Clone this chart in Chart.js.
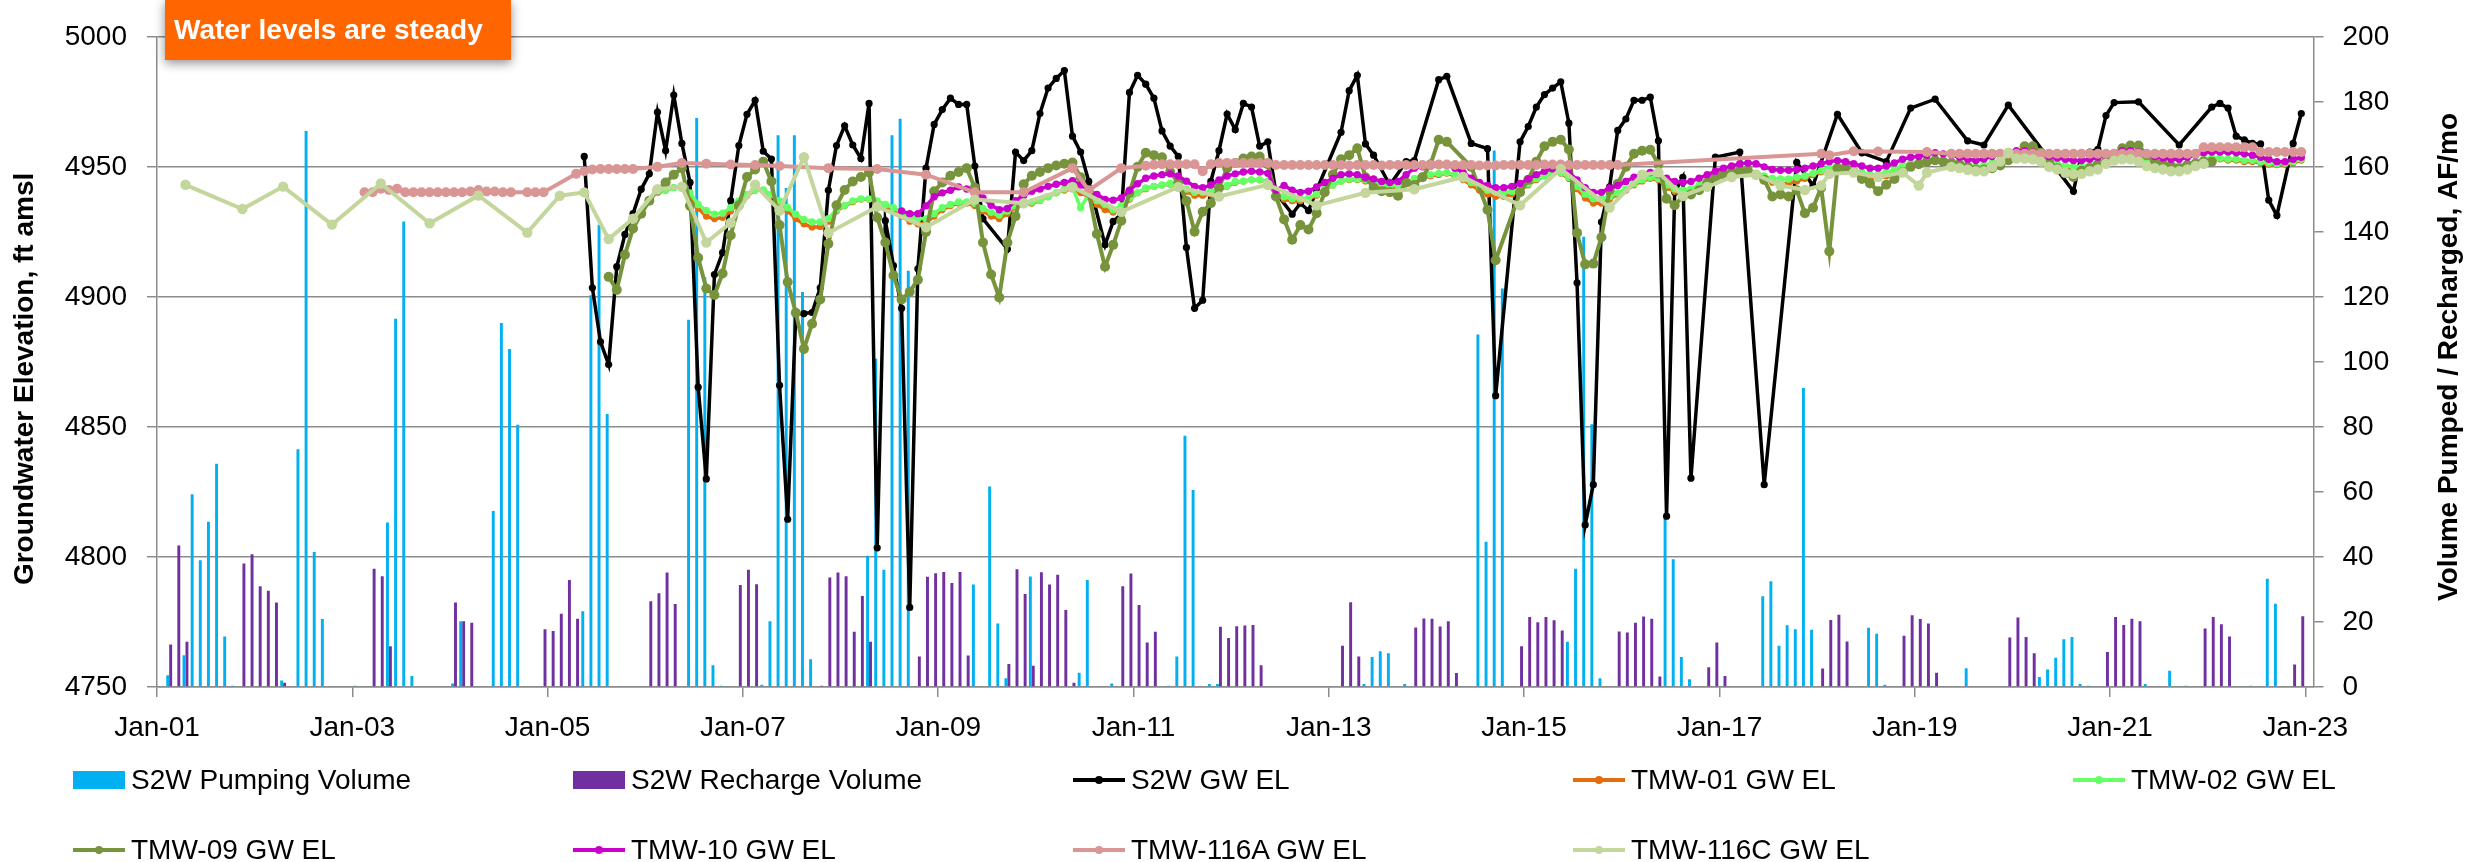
<!DOCTYPE html>
<html>
<head>
    <meta charset="utf-8">
    <title>S2W Groundwater Elevation and Volumes</title>
    <script src="https://cdn.jsdelivr.net/npm/chart.js"></script>
    <style>
        body {
            margin: 0;
            background: #fff;
            font-family: "Liberation Sans", Arial, sans-serif;
        }
        .wrap {
            position: relative;
            width: 2489px;
            height: 862px;
            overflow: hidden;
        }
        #chart {
            position: absolute;
            left: 0;
            top: 0;
        }
        .note {
            position: absolute;
            left: 165px;
            top: 0;
            width: 346px;
            height: 60px;
            box-sizing: border-box;
            padding-left: 9px;
            background: #ff6600;
            color: #fff;
            font-weight: bold;
            font-size: 28px;
            line-height: 60px;
            box-shadow: 0 3px 10px rgba(0, 0, 0, 0.45);
        }
        .legend {
            position: absolute;
            left: 73px;
            top: 745px;
            display: grid;
            grid-template-columns: repeat(5, 500px);
            grid-auto-rows: 70px;
        }
        .item {
            display: flex;
            align-items: center;
            font-size: 28px;
            color: #000;
            white-space: nowrap;
        }
        .swatch {
            width: 52px;
            height: 18px;
            margin-right: 6px;
        }
        .lineMark {
            position: relative;
            width: 52px;
            height: 4px;
            margin-right: 6px;
        }
        .lineMark span {
            position: absolute;
            left: 22px;
            top: -2px;
            width: 8px;
            height: 8px;
            border-radius: 50%;
        }
    </style>
</head>
<body>
<div class="wrap">
    <canvas id="chart" width="2489" height="862"></canvas>
    <div class="note">Water levels are steady</div>
    <div class="legend" id="legend"></div>
</div>

<script>
    // monthly volumes, AF/mo (right axis)
    const pumpMonths = [
        '2001-02', '2001-04', '2001-05', '2001-06', '2001-07', '2001-08', '2001-09', '2001-10',
        '2002-04', '2002-06', '2002-07', '2002-08', '2002-09',
        '2003-01', '2003-05', '2003-06', '2003-07', '2003-08',
        '2004-01', '2004-02', '2004-06', '2004-07', '2004-08', '2004-09',
        '2005-05', '2005-06', '2005-07', '2005-08',
        '2006-06', '2006-07', '2006-08', '2006-09', '2006-10',
        '2007-03', '2007-04', '2007-05', '2007-06', '2007-07', '2007-08', '2007-09',
        '2008-04', '2008-05', '2008-06', '2008-07', '2008-08', '2008-09',
        '2009-05', '2009-07', '2009-08', '2009-09', '2009-12',
        '2010-06', '2010-07', '2010-10',
        '2011-05', '2011-06', '2011-07', '2011-08', '2011-10', '2011-11',
        '2013-05', '2013-06', '2013-07', '2013-08', '2013-10',
        '2014-07', '2014-08', '2014-09', '2014-10',
        '2015-06', '2015-07', '2015-08', '2015-09', '2015-10',
        '2016-06', '2016-07', '2016-08', '2016-09',
        '2017-06', '2017-07', '2017-08', '2017-09', '2017-10', '2017-11', '2017-12',
        '2018-07', '2018-08', '2018-09',
        '2019-07',
        '2020-04', '2020-05', '2020-06', '2020-07', '2020-08', '2020-09', '2020-10',
        '2021-05', '2021-08', '2021-10',
        '2022-06', '2022-08', '2022-09'
    ];
    const pumpVolume = [
        3.6, 9.8, 59.3, 39, 50.8, 68.7, 15.5, 0.4,
        2, 73.1, 171, 41.5, 20.9,
        0.4, 50.6, 113.3, 143.2, 3.4,
        1.1, 20.2, 54.1, 112, 104, 80.7,
        23.3, 120.5, 142.2, 84,
        113, 175, 126, 6.7, 0.4,
        0.7, 20.2, 169.7, 153.5, 169.7, 121.5, 8.5,
        40.4, 101, 36.1, 169.7, 174.8, 128,
        31.5, 61.7, 19.5, 2.7, 34,
        4.4, 32.9, 1.1,
        0.4, 9.4, 77.3, 60.6, 0.9, 0.9,
        0.9, 9.2, 11, 10.4, 0.9,
        108.4, 44.7, 165, 122.6,
        13.9, 36.4, 138.5, 80.8, 2.7,
        52.5, 39.3, 9.2, 2.4,
        27.9, 32.5, 12.7, 19, 17.8, 92, 17.6,
        18.2, 16.4, 0.7,
        5.8,
        3.1, 5.4, 9, 14.7, 15.4, 0.9, 0.4,
        0.9, 5, 0.4,
        0.4, 33.3, 25.6
    ];

    const rechargeMonths = [
        '2001-02', '2001-03', '2001-04', '2001-11', '2001-12',
        '2002-01', '2002-02', '2002-03', '2002-04',
        '2003-03', '2003-04', '2003-05',
        '2004-01', '2004-02', '2004-03', '2004-12',
        '2005-01', '2005-02', '2005-03', '2005-04',
        '2006-01', '2006-02', '2006-03', '2006-04', '2006-12',
        '2007-01', '2007-02', '2007-10', '2007-11', '2007-12',
        '2008-01', '2008-02', '2008-03', '2008-04', '2008-10', '2008-11', '2008-12',
        '2009-01', '2009-02', '2009-03', '2009-04', '2009-09', '2009-10', '2009-11', '2009-12',
        '2010-01', '2010-02', '2010-03', '2010-04', '2010-05', '2010-11', '2010-12',
        '2011-01', '2011-02', '2011-03', '2011-11', '2011-12',
        '2012-01', '2012-02', '2012-03', '2012-04',
        '2013-02', '2013-03', '2013-04', '2013-11', '2013-12',
        '2014-01', '2014-02', '2014-03', '2014-04', '2014-12',
        '2015-01', '2015-02', '2015-03', '2015-04', '2015-05', '2015-12',
        '2016-01', '2016-02', '2016-03', '2016-04', '2016-05', '2016-11', '2016-12',
        '2017-01',
        '2018-01', '2018-02', '2018-03', '2018-04', '2018-11', '2018-12',
        '2019-01', '2019-02', '2019-03', '2019-12',
        '2020-01', '2020-02', '2020-03', '2020-12',
        '2021-01', '2021-02', '2021-03', '2021-04', '2021-12',
        '2022-01', '2022-02', '2022-03', '2022-11', '2022-12'
    ];
    const rechargeVolume = [
        13.1, 43.5, 13.9, 38, 40.8,
        31, 29.6, 26, 1.3,
        36.4, 34.1, 12.5,
        26, 20.2, 19.8, 17.8,
        17.2, 22.5, 32.9, 21,
        26.4, 28.8, 35.2, 25.5, 31.4,
        36.1, 31.6, 0.4, 33.7, 35.2,
        34.1, 17, 28, 13.9, 9.4, 33.9, 35,
        35.4, 32, 35.4, 9.7, 7.1, 36.2, 28.6, 6.5,
        35.3, 31.5, 34.5, 23.7, 1.3, 31, 34.9,
        25.2, 13.7, 17, 18.5, 15.1,
        18.7, 18.9, 19.1, 6.7,
        12.7, 26.1, 9.4, 18.3, 21.1,
        21, 18.6, 20.2, 4.3, 12.5,
        21.5, 19.9, 21.5, 20.5, 17.4, 17.1,
        16.8, 19.8, 21.7, 21, 3.2, 6.1, 13.7,
        3.4,
        5.7, 20.6, 22.2, 14, 15.8, 22.1,
        20.9, 19.5, 4.4, 15.2,
        21.4, 15.4, 10.4, 10.8,
        21.5, 19.1, 21, 20.2, 18,
        21.5, 19.3, 15.5, 6.9, 21.8
    ];

    // groundwater elevations, ft amsl (left axis); one row per year, Jan..Dec, null = no reading
    const s2wStart = '2005-01';
    const s2wLevel = [
        null, null, null, null, 4954, 4903.5, 4882.7, 4874, 4911.6, 4924, 4932, 4941.4,
        4947.3, 4971, 4956.2, 4977.6, 4959, 4944, 4865.3, 4830, 4908.6, 4917, 4937, 4958.2,
        4970.2, 4975.6, 4956, 4953, 4866, 4814.5, 4893.4, 4893.6, 4894, 4903.5, 4941, 4958.2,
        4965.8, 4958.4, 4953.2, 4974.4, 4803.5, 4929.3, 4912, 4895.6, 4780.6, 4910.8, 4949.5, 4966.3,
        4972, 4976.4, 4974, 4974, 4950.3, 4930, null, null, 4918.4, 4955.7, 4952.4, 4956.2,
        4970.5, 4980.3, 4984, 4987, 4961.8, 4955.7, 4944.4, null, 4920, 4929, 4931.8, 4978.6,
        4985.2, 4981.8, 4976.4, 4963.8, 4958, 4954, 4919, 4895.6, 4898.7, 4944.4, 4956.2, 4970.3,
        4964.3, 4974.4, 4973, 4958, 4959.6, 4940, null, 4931.8, 4936, 4933.2, 4941, null,
        null, 4963.3, 4979.3, 4985.2, 4958.8, 4954.5, null, 4943, null, 4952, 4952.4, null,
        null, 4983.5, 4984.8, null, null, 4959, null, 4957, 4862, null, null, 4959.6,
        4965.5, 4973, 4977.8, 4980.3, 4982.7, 4966.8, 4905.4, 4812.3, 4827.8, 4928.8, 4942.3, 4964,
        4968.4, 4975.6, 4975.6, 4976.8, 4960, 4815.7, 4940.2, 4946, 4830.3, null, null, 4953.7,
        null, null, 4955.7, null, null, 4827.8, null, null, null, 4951.7, null, 4942.8,
        null, null, 4970.2, null, null, 4955.4, null, null, 4952, null, null, 4972.6,
        null, null, 4976, null, null, null, 4960, null, 4958.4, null, null, 4973.7,
        null, null, null, null, null, null, null, 4940.6, 4955, 4955.7, 4956.7, 4969.7,
        4974.7, null, null, 4975, null, null, null, null, 4958.4, null, null, null,
        4973, 4974.4, 4972.6, 4961.8, 4960.4, 4959, 4958.8, 4937.2, 4931.3, null, 4959, 4970.5
    ];

    const tmw01Start = '2006-01';
    const tmw01Level = [
        null, 4940, 4941, 4942, 4942.5, 4939, 4934, 4931, 4930, 4930.5, 4933, 4936,
        4939, 4941, 4941, 4939, 4936, 4933, 4930, 4928, 4926.8, 4927, 4929, 4933,
        4935, 4936.5, 4937.5, 4937.5, 4936.5, 4935, 4933, 4931, 4929, 4928, 4928.5, 4931,
        4933.5, 4935, 4936, 4936, 4935, 4933, 4931, 4930, 4932, 4934.5, 4935.5, 4936,
        4937, 4938.5, 4940, 4941, 4941.5, 4940, 4938.5, 4935.5, 4933.5, 4932.5, 4934, 4937.5,
        4940, 4941.5, 4942.5, 4943, 4943.3, 4942.5, 4940.5, 4939, 4939, 4939.5, 4941, 4942.5,
        4944, 4944.5, 4945, 4945, 4944, 4939, 4937.5, 4936.9, 4936.9, 4937.5, 4939, 4941,
        4943, 4944.5, 4945, 4945, 4944.5, 4943.5, 4942.5, 4942, 4942, 4943.5, 4945, 4946,
        4946.5, 4947, 4947.5, 4946.5, 4945, 4943, 4941, 4939.5, 4938.6, 4938.6, 4939.5, 4941,
        4943, 4945, 4946.5, 4947.5, 4947.5, 4945.5, 4941.5, 4938, 4936, 4936, 4937.5, 4939.5,
        4941, 4943, 4944.5, 4945.5, 4945, 4942, 4940.5, 4940, 4940.5, 4942.5, 4944, 4945.5,
        4946.5, 4947, 4947.5, 4947.5, 4947, 4945.5, 4944, 4943.6, 4943.6, 4944.5, 4945.5, 4947,
        4948, 4949, 4949, 4948.5, 4947.5, 4946.5, 4945.5, 4945.5, 4946.5, 4948, 4950, 4951,
        4951.5, 4951.5, 4952, 4952, 4951.5, 4950.5, 4949.5, 4949, 4949.5, 4950.5, 4952, 4953,
        4953.5, 4953.5, 4953, 4952, 4950.5, 4950, 4949.5, 4949, 4949, 4949.5, 4950.5, 4952,
        4953, 4953.5, 4953.5, 4953, 4952, 4950.5, 4950, 4949.5, 4949.5, 4950.5, 4951.5, 4952.5,
        4953, 4953, 4952.5, 4952.5, 4952, 4952, 4951.5, 4951, 4950.8, 4951, 4951.5, 4952.5
    ];

    const tmw02Start = '2006-01';
    const tmw02Level = [
        null, 4940.2, 4941, 4942, 4942.8, 4940, 4935.5, 4933.2, 4931.8, 4932.2, 4934.3, 4936.9,
        4939.4, 4941.1, 4941.1, 4939.4, 4936.9, 4934.3, 4931.8, 4929.8, 4928.8, 4928.8, 4930.1, 4933.5,
        4935.2, 4936.9, 4937.7, 4937.7, 4936.9, 4935.5, 4934.3, 4932.5, 4931, 4930.1, 4930, 4932,
        4934.3, 4935.5, 4936.5, 4936.5, 4936, 4934, 4932.5, 4931.5, 4933, 4935, 4936, 4936.5,
        4937.2, 4938.5, 4940, 4941.5, 4941.9, 4934.3, 4939.5, 4937, 4935.5, 4933.5, 4935, 4938,
        4940, 4941.9, 4942.5, 4943, 4943.6, 4943, 4941.5, 4940.2, 4940.2, 4940.5, 4941.5, 4942.8,
        4944.4, 4944.5, 4945, 4945, 4944.5, 4940, 4938.5, 4937.7, 4937.7, 4938, 4939.5, 4941.5,
        4943, 4944.5, 4945.3, 4945.3, 4945, 4944, 4943.3, 4942.8, 4942.8, 4944, 4945.5, 4946.5,
        4947, 4947.5, 4947.8, 4947, 4945.5, 4944, 4942.5, 4941, 4940.2, 4940.2, 4940.5, 4941.5,
        4943.5, 4945.5, 4946.5, 4947.5, 4947.8, 4946, 4942.5, 4939.5, 4937.7, 4937.7, 4938.5, 4940,
        4941.5, 4943.5, 4945, 4946, 4945.5, 4943, 4941.5, 4941, 4941.5, 4943, 4944.5, 4946,
        4947, 4947.5, 4948, 4947.8, 4947.5, 4946.5, 4945.5, 4945.3, 4945.3, 4946, 4946.5, 4947.5,
        4948.5, 4949.5, 4949.5, 4949, 4948.5, 4947.8, 4947, 4947, 4947.8, 4949, 4950.5, 4951.5,
        4952, 4952, 4952.5, 4952.5, 4952, 4951.5, 4950.5, 4950, 4950.5, 4951.5, 4952.5, 4953.5,
        4954, 4954, 4953.5, 4952.5, 4951.5, 4951, 4950.5, 4950, 4950, 4950.5, 4951.5, 4952.5,
        4953.5, 4954, 4954, 4953.5, 4952.5, 4951.5, 4951, 4950.5, 4950.5, 4951, 4952, 4953,
        4953.4, 4953.4, 4953, 4953, 4952.5, 4952.5, 4952, 4951.5, 4951.2, 4951.5, 4952, 4953
    ];

    const tmw09Start = '2005-01';
    const tmw09Level = [
        null, null, null, null, null, null, null, 4907.7, 4902.7, 4916.2, 4926.3, 4932,
        4937, 4941, 4944, 4947, 4949.5, 4935, 4915, 4903.2, 4900.7, 4909, 4923.7, 4935.2,
        4946.1, 4949, 4952, 4944.4, 4927.6, 4905.7, 4893.9, 4880, 4889.7, 4899, 4920.4, 4935.2,
        4941.1, 4944.4, 4946.1, 4947.8, 4930.5, 4920.9, 4908.2, 4899, 4902, 4906.6, 4925, 4940.6,
        4944, 4946.6, 4948, 4949.5, 4942, 4920.9, 4908.6, 4899.8, 4920.9, 4931, 4943.3, 4946.6,
        4948, 4949.5, 4950.5, 4951.2, 4951.7, 4946, 4940, 4924.2, 4911.6, 4920, 4929.3, 4940,
        4950, 4955.4, 4954.5, 4953.7, 4948, 4944, 4936.9, 4925.1, 4932.7, 4936, 4942, 4949.5,
        4951.5, 4953.2, 4954, 4954, 4951, 4938.6, 4929.8, 4922, 4927.6, 4925.9, 4932.2, 4940.2,
        4947, 4952.9, 4954.5, 4957.1, 4946, 4942, 4940.6, 4940.2, 4938.9, 4944, 4943, 4946,
        4951, 4960.4, 4959.6, null, null, 4950, null, 4933.5, 4914.1, null, null, 4940.2,
        4945, 4952, 4957.9, 4959.6, 4960.4, 4956.7, 4924.6, 4912.5, 4912.8, 4922.9, 4941, 4943.5,
        4950, 4955, 4956.2, 4956.6, 4951, 4937.7, 4935.2, 4938.6, 4939.4, 4941, 4944, 4946,
        4947, 4948, 4948.5, 4948.5, 4947, 4945, 4938.6, 4939.4, 4938.6, 4941, 4932.2, 4934.3,
        4942, 4917.5, 4949.5, 4949.8, 4948, 4945.3, 4943.6, 4940.6, 4943.1, 4945.3, 4948, 4950,
        4951, 4952, 4952.5, 4952, 4951.5, 4951, 4950, 4949, 4949, 4949.5, 4950.5, 4952.5,
        4954, 4957.9, 4957.9, 4955.4, 4952, 4949.5, 4947.5, 4946.1, 4948.5, 4949.5, 4951, 4952,
        4953.7, 4957.1, 4958.2, 4958.2, 4954.5, 4952, 4951.2, 4950.3, 4949.5, 4950.7, 4951.2, 4952,
        4952
    ];

    const tmw10Start = '2008-01';
    const tmw10Level = [
        null, null, null, null, null, null, null, 4933, 4932, 4932, 4935, 4938.5,
        4940, 4941, 4942.3, 4941.5, 4940.2, 4938, 4935.2, 4933.5, 4934, 4937, 4939, 4940.6,
        4941.5, 4942.5, 4943.3, 4944, 4944.7, 4943, 4941, 4939.4, 4937.5, 4937.2, 4938, 4941,
        4943.5, 4945.6, 4946.5, 4947, 4947.3, 4946.5, 4944.5, 4942.5, 4942, 4943, 4945, 4946.5,
        4947.3, 4948, 4948.3, 4948, 4947.5, 4941, 4942.8, 4941, 4940.2, 4940.6, 4942.3, 4944,
        4945.6, 4947, 4947.3, 4947, 4946, 4945.3, 4944.4, 4944, 4944.4, 4947, 4949.5, 4950,
        4950.3, 4950.5, 4950.7, 4949.5, 4947.8, 4945.6, 4944, 4942.8, 4942, 4942, 4942.5, 4943.6,
        4945.3, 4947, 4948.3, 4949.2, 4949.5, 4947.8, 4945, 4942, 4940.2, 4940.2, 4941.9, 4942.8,
        4944.4, 4946, 4947.3, 4947.8, 4947, 4945.6, 4944.4, 4944, 4944.4, 4945.6, 4947, 4948.3,
        4949.5, 4950.3, 4951.2, 4951.5, 4951.2, 4950, 4949, 4948.7, 4948.7, 4949, 4949.5, 4950.3,
        4951.2, 4952, 4952.4, 4952, 4951.2, 4950.3, 4949.5, 4949.5, 4950.3, 4951.5, 4952.9, 4953.7,
        4954, 4954.5, 4955.4, 4955, 4954.5, 4953.7, 4952.9, 4952.4, 4953, 4954, 4955, 4955.7,
        4956.2, 4956.2, 4955.7, 4955, 4954, 4953.4, 4952.9, 4952.4, 4952.4, 4952.9, 4953.7, 4954.5,
        4955.4, 4956.2, 4956.2, 4955.7, 4955, 4954, 4953.4, 4952.9, 4952.9, 4953.7, 4954.5, 4955.4,
        4955.7, 4955.7, 4955.7, 4955.4, 4955, 4954.5, 4953.7, 4952.9, 4952, 4952, 4952.9, 4953.7
    ];

    const tmw116aStart = '2003-01';
    const tmw116aLevel = [
        null, 4940.2, 4940.2, 4941.6, 4941.1, 4941.6, 4940.2, 4940.2, 4940.2, 4940.2, 4940.2, 4940.2,
        4940.2, 4940.2, 4940.5, 4941.1, 4940.5, 4940.5, 4940.2, 4940.2, null, 4940.2, 4940.2, 4940.2,
        null, null, null, 4947.3, 4948.3, 4949, 4949.2, 4949.2, 4949.2, 4949.2, 4949.2, null,
        null, 4950, null, null, 4951.5, null, null, 4951.2, null, null, 4950.9, null,
        null, 4950.7, null, null, 4950.3, null, null, null, null, null, 4949.5, null,
        null, null, null, null, 4949.2, null, null, null, null, null, 4947, null,
        null, null, null, null, 4940.2, null, null, null, null, null, 4940.2, null,
        null, null, null, null, 4949.5, null, 4941, null, null, null, 4949.5, null,
        null, 4950.4, 4950.8, 4951, 4951, 4951, 4951, 4951, 4948.3, 4951, 4951.5, 4951.5,
        4951.5, 4951.5, 4951.5, 4951.5, 4951.5, 4950.7, 4950.7, 4950.7, 4950.7, 4950.7, 4950.7, 4950.7,
        4950.7, 4950.7, 4950.5, 4950.7, 4950.7, 4950.7, 4950.5, 4950.7, 4950.7, 4950.7, 4950.7, 4950.7,
        4950.7, 4950.9, 4950.9, 4950.7, 4950.7, 4950.7, 4950.5, 4950.5, 4950.5, 4950.7, 4950.7, 4950.7,
        4950.7, 4950.7, 4950.9, 4950.9, 4950.9, 4950.7, 4950.7, 4950.7, 4950.7, 4950.7, 4950.7, 4950.7,
        null, null, null, null, null, null, null, null, null, null, null, null,
        null, null, null, null, null, null, null, null, null, null, null, null,
        4955, 4954.5, null, null, 4956, null, null, 4955.9, null, null, null, null,
        null, 4955.7, null, null, 4955, 4955, 4955, 4955, 4955, 4955, 4955, 4955,
        4955, 4955, 4955, 4955, 4955, 4955, 4955, 4955, 4955, 4955, 4955, 4955,
        4955, 4955, 4955, 4955, 4955, 4955, 4955, 4955, 4955, 4955, 4955, 4957.5,
        4957.5, 4957.5, 4957.5, 4957.5, 4957.5, 4957.5, 4955.7, 4955.7, 4955.7, 4955.7, 4955.7, 4955.7
    ];

    const tmw116cStart = '2001-01';
    const tmw116cLevel = [
        null, null, null, 4943.1, null, null, null, null, null, null, 4933.8, null,
        null, null, null, 4942.4, null, null, null, null, null, 4927.8, null, null,
        null, null, null, 4943.6, null, null, null, null, null, 4928.3, null, null,
        null, null, null, 4939, null, null, null, null, null, 4924.7, null, null,
        null, 4938.9, null, null, 4940.2, null, null, 4922.2, null, null, 4930.1, null,
        null, 4941.4, null, null, 4942.3, null, null, 4920.9, null, null, 4928.5, null,
        null, 4943.1, null, null, 4933.2, null, null, 4953.7, null, null, 4924.6, null,
        null, null, null, null, 4934.7, null, null, null, null, null, 4926.8, null,
        null, null, null, null, 4937.4, null, null, null, null, null, 4936, null,
        null, null, null, null, 4942.3, null, null, null, null, null, 4932.7, null,
        null, null, null, null, null, 4942.3, null, null, null, null, 4938.6, null,
        null, null, null, null, 4943.1, null, null, null, null, null, 4935.2, null,
        null, null, null, null, 4940, null, null, null, null, null, 4941.4, null,
        null, null, null, null, 4946.1, null, null, null, null, null, null, 4935.2,
        null, null, null, null, 4949.2, null, null, null, null, null, 4934.3, null,
        null, null, 4947, null, 4947.8, null, null, 4938.9, null, null, 4942.3, null,
        null, 4946.1, null, null, 4947, null, null, 4942.8, null, null, 4941.1, null,
        4942.8, 4947.3, null, null, 4947.8, null, null, 4946.1, null, null, 4947.8, null,
        4942.8, 4947.8, null, null, 4950, 4949.5, 4948.9, 4948.3, 4948.3, 4950, 4952, 4955.4,
        4953.2, 4953.2, 4952.9, 4952, 4950, 4949, 4947.8, 4947.3, 4947.3, 4948.3, 4949, 4951.2,
        4952.4, 4952.9, 4952.9, 4952, 4950.3, 4949.5, 4949, 4948.3, 4948.3, 4949, 4950.3, 4951.2
    ];

    const leftTitle = 'Groundwater Elevation, ft amsl';
    const rightTitle = 'Volume Pumped / Recharged, AF/mo';
    const gridColor = '#8c8c8c';
    const fontFamily = '"Liberation Sans", Arial, sans-serif';

    // x axis is months since Jan 2001, points sit mid-month
    function monthIndex(s) {
        const parts = s.split('-');
        return (Number(parts[0]) - 2001) * 12 + Number(parts[1]) - 1;
    }
    function barPoints(months, vals) {
        return months.map((m, i) => ({ x: monthIndex(m) + 0.5, y: vals[i] }));
    }
    function seriesPoints(start, vals) {
        const s = monthIndex(start);
        return vals.map((v, i) => ({ x: s + i + 0.5, y: v }));
    }
    function lineSet(label, data, color, width, radius, order) {
        return {
            type: 'line',
            label: label,
            data: data,
            yAxisID: 'y',
            borderColor: color,
            backgroundColor: color,
            pointBackgroundColor: color,
            borderWidth: width,
            pointRadius: radius,
            pointBorderWidth: 0,
            spanGaps: true,
            tension: 0,
            order: order
        };
    }

    // titles drawn by hand so the right one reads bottom-to-top like the original
    const axisTitles = {
        id: 'axisTitles',
        afterDraw(chart) {
            const ctx = chart.ctx;
            const area = chart.chartArea;
            const mid = (area.top + area.bottom) / 2;
            ctx.save();
            ctx.font = 'bold 28px ' + fontFamily;
            ctx.fillStyle = '#000';
            ctx.textAlign = 'center';
            ctx.textBaseline = 'middle';
            ctx.translate(chart.scales.y.left + 25, mid + 17);
            ctx.rotate(-Math.PI / 2);
            ctx.fillText(leftTitle, 0, 0);
            ctx.restore();
            ctx.save();
            ctx.font = 'bold 28px ' + fontFamily;
            ctx.fillStyle = '#000';
            ctx.textAlign = 'center';
            ctx.textBaseline = 'middle';
            ctx.translate(chart.scales.y1.right - 40, mid - 5);
            ctx.rotate(-Math.PI / 2);
            ctx.fillText(rightTitle, 0, 0);
            ctx.restore();
        }
    };

    Chart.defaults.font.family = fontFamily;
    Chart.defaults.color = '#000';

    const tickFont = { size: 28 };

    const myChart = new Chart(document.getElementById('chart').getContext('2d'), {
        type: 'bar',
        data: {
            datasets: [
                {
                    type: 'bar',
                    label: 'S2W Pumping Volume',
                    data: barPoints(pumpMonths, pumpVolume),
                    yAxisID: 'y1',
                    backgroundColor: '#00B0F0',
                    categoryPercentage: 0.72,
                    barPercentage: 1,
                    order: 8
                },
                {
                    type: 'bar',
                    label: 'S2W Recharge Volume',
                    data: barPoints(rechargeMonths, rechargeVolume),
                    yAxisID: 'y1',
                    backgroundColor: '#7030A0',
                    categoryPercentage: 0.72,
                    barPercentage: 1,
                    order: 9
                },
                lineSet('S2W GW EL', seriesPoints(s2wStart, s2wLevel), '#000000', 3.5, 3.6, 7),
                lineSet('TMW-01 GW EL', seriesPoints(tmw01Start, tmw01Level), '#E46C0A', 3.5, 3.4, 6),
                lineSet('TMW-02 GW EL', seriesPoints(tmw02Start, tmw02Level), '#66FF66', 3.5, 3.7, 5),
                lineSet('TMW-09 GW EL', seriesPoints(tmw09Start, tmw09Level), '#77933C', 4, 5, 4),
                lineSet('TMW-10 GW EL', seriesPoints(tmw10Start, tmw10Level), '#CC00CC', 3.5, 3.7, 3),
                lineSet('TMW-116A GW EL', seriesPoints(tmw116aStart, tmw116aLevel), '#D99694', 4, 5, 2),
                lineSet('TMW-116C GW EL', seriesPoints(tmw116cStart, tmw116cLevel), '#C3D69B', 4, 5.2, 1)
            ]
        },
        options: {
            responsive: false,
            animation: false,
            layout: { padding: { top: 24, bottom: 105, left: 0, right: 0 } },
            plugins: {
                legend: { display: false },
                tooltip: { enabled: false }
            },
            scales: {
                x: {
                    type: 'linear',
                    min: 0,
                    max: 265,
                    offset: false,
                    afterFit: (s) => { s.height = 70; },
                    grid: { offset: false, drawOnChartArea: false, drawTicks: true, tickLength: 10, color: gridColor, lineWidth: 1.5 },
                    border: { color: gridColor, width: 1.5 },
                    ticks: {
                        stepSize: 24,
                        includeBounds: false,
                        autoSkip: false,
                        maxRotation: 0,
                        padding: 14,
                        font: tickFont,
                        callback: (v) => 'Jan-' + String((2001 + v / 12) % 100).padStart(2, '0')
                    }
                },
                y: {
                    position: 'left',
                    min: 4750,
                    max: 5000,
                    afterFit: (s) => { s.width = 157; },
                    grid: { color: gridColor, lineWidth: 1.5, tickLength: 10 },
                    border: { color: gridColor, width: 1.5 },
                    ticks: { stepSize: 50, padding: 20, font: tickFont, callback: (v) => String(v) }
                },
                y1: {
                    position: 'right',
                    min: 0,
                    max: 200,
                    afterFit: (s) => { s.width = 175.5; },
                    grid: { drawOnChartArea: false, color: gridColor, lineWidth: 1.5, tickLength: 10 },
                    border: { color: gridColor, width: 1.5 },
                    ticks: { stepSize: 20, padding: 19, font: tickFont, callback: (v) => String(v) }
                }
            }
        },
        plugins: [axisTitles]
    });

    // legend laid out in fixed columns like the spreadsheet version
    const legendDiv = document.getElementById('legend');
    myChart.data.datasets.forEach((ds) => {
        const item = document.createElement('div');
        item.className = 'item';
        const mark = document.createElement('div');
        if (ds.type === 'bar') {
            mark.className = 'swatch';
            mark.style.background = ds.backgroundColor;
        } else {
            mark.className = 'lineMark';
            mark.style.background = ds.borderColor;
            const dot = document.createElement('span');
            dot.style.background = ds.borderColor;
            mark.appendChild(dot);
        }
        item.appendChild(mark);
        item.appendChild(document.createTextNode(ds.label));
        legendDiv.appendChild(item);
    });
</script>
</body>
</html>
